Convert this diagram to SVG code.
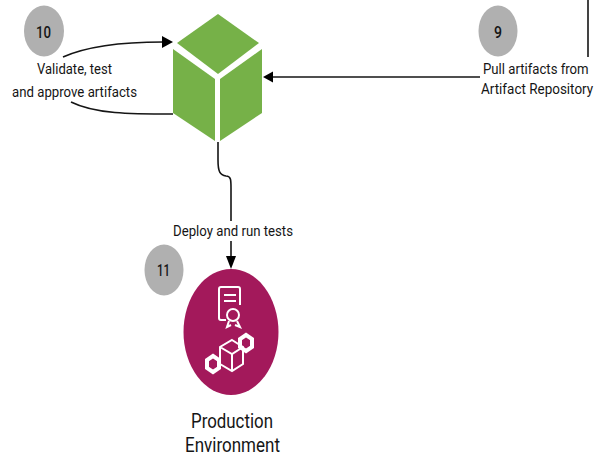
<svg xmlns="http://www.w3.org/2000/svg" width="594" height="457" viewBox="0 0 594 457">
<style>
.lbl{font-family:"Roboto","Liberation Sans",sans-serif;fill:#151515;font-size:15.500px;text-anchor:start}
.num{font-family:"Roboto","Liberation Sans",sans-serif;fill:#151515;font-size:16px;font-weight:500;text-anchor:start}
.big{font-family:"Roboto","Liberation Sans",sans-serif;fill:#151515;font-size:20.500px;text-anchor:start}
.badge{fill:#b0b0b0}
.line{fill:none;stroke:#151515;stroke-width:1.6}
.arrow{fill:#000}
.cube{fill:#76b148}
.icon{fill:none;stroke:#fff;stroke-width:2}
.hex{fill:none;stroke:#fff;stroke-width:4}
</style>
<rect width="594" height="457" fill="#fff"/>
<g id="connectors">
<path class="line" d="M63 57C90 45 125 42 163 42"/>
<polygon class="arrow" points="173,42 162,36 162,48"/>
<path class="line" d="M71 102C95 114 130 114 173 114"/>
<path class="line" d="M218 142V160C218 172 220 175 226 176C231 176 231 180 231 188V221"/>
<path class="line" d="M231 241V258"/>
<polygon class="arrow" points="231,269 226,256 236,256"/>
<path class="line" d="M273 77H480"/>
<polygon class="arrow" points="263,77 273,71.500 273,82.500"/>
<path class="line" d="M588 0V57"/>
</g>
<g id="node-10">
<ellipse class="badge" cx="44" cy="31" rx="20" ry="25.500"/>
<text class="num" x="36" y="38" textLength="15" lengthAdjust="spacingAndGlyphs">10</text>
<text class="lbl" x="37" y="74" textLength="75" lengthAdjust="spacingAndGlyphs">Validate, test</text>
<text class="lbl" x="12" y="97" textLength="125" lengthAdjust="spacingAndGlyphs">and approve artifacts</text>
</g>
<g id="node-cube">
<polygon class="cube" points="218,14 259,43 218,74 177,43"/>
<polygon class="cube" points="173,49 215,79 215,141 173,113"/>
<polygon class="cube" points="262,49 262,113 220,141 220,79"/>
</g>
<g id="node-9">
<ellipse class="badge" cx="498" cy="31" rx="19.500" ry="25.500"/>
<text class="num" x="494" y="38" textLength="8" lengthAdjust="spacingAndGlyphs">9</text>
<text class="lbl" transform="translate(483 74) scale(.85 1)">Pull artifacts from</text>
<text class="lbl" transform="translate(481 94) scale(.87 1)">Artifact Repository</text>
</g>
<g id="node-deploy-label">
<text class="lbl" x="173" y="236" textLength="120" lengthAdjust="spacingAndGlyphs">Deploy and run tests</text>
</g>
<g id="node-11">
<ellipse class="badge" cx="164" cy="270" rx="19.500" ry="25.500"/>
<text class="num" x="157" y="276" textLength="13" lengthAdjust="spacingAndGlyphs">11</text>
</g>
<g id="node-production">
<ellipse cx="231" cy="332" rx="47.500" ry="63" fill="#a3195b"/>
<path class="icon" d="M240 305V289A2 2 0 0 0 238 287H221A2 2 0 0 0 219 289V318A2 2 0 0 0 221 320H226"/>
<path class="icon" d="M224 295H236M224 301H236"/>
<circle class="icon" cx="233" cy="315" r="6"/>
<path class="icon" d="M229 321L227 327L231 325M237 321L240 327L235 325"/>
<path class="icon" d="M232 340L243 347V364L232 371L220 364V347ZM220 347L232 354L243 347M232 354V371"/>
<polygon class="hex" points="246,335 252,339 252,347 246,351 240,347 240,339"/>
<polygon class="hex" points="213,356 219,360 219,368 213,372 207,368 207,360"/>
<text class="big" x="191" y="428" textLength="82" lengthAdjust="spacingAndGlyphs">Production</text>
<text class="big" x="185" y="451.500" textLength="95" lengthAdjust="spacingAndGlyphs">Environment</text>
</g>
</svg>
